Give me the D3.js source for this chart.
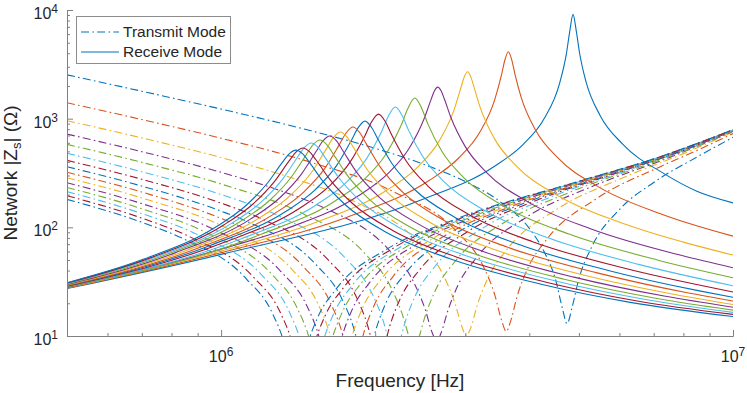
<!DOCTYPE html>
<html>
<head>
<meta charset="utf-8">
<script src="https://cdn.jsdelivr.net/npm/d3@7"></script>
<style>
  body { margin: 0; background: #fff; }
  text { font-family: "Liberation Sans", Arial, Helvetica, sans-serif; fill: #262626; }
</style>
</head>
<body>
<svg id="chart" width="747" height="393"></svg>
<script>
const colors = ['#0072BD', '#D95319', '#EDB120', '#7E2F8E', '#77AC30', '#4DBEEE', '#A2142F'];

const xMajor = [1e6, 1e7];
const xMajorExp = ['6', '7'];
const xMinor = [6e5, 7e5, 8e5, 9e5, 2e6, 3e6, 4e6, 5e6, 6e6, 7e6, 8e6, 9e6];
const yMajor = [1e1, 1e2, 1e3, 1e4];
const yMajorExp = ['1', '2', '3', '4'];
const legendLabels = ['Transmit Mode', 'Receive Mode'];

// transmit mode |Zs| per channel: frequency (Hz) / impedance (Ohm)
const transmitFreq = [
  [5e5, 7e5, 1e6, 1.5e6, 2e6, 2.5e6, 3e6, 3.5e6, 4e6, 4.3e6, 4.5e6, 4.64e6, 4.74e6, 4.85e6, 5.0e6, 5.3e6, 6e6, 7e6, 8.5e6, 1e7],
  [5e5, 7e5, 1e6, 1.5e6, 2.164e6, 2.885e6, 3.245e6, 3.426e6, 3.534e6, 3.606e6, 3.678e6, 3.786e6, 3.967e6, 4.327e6, 5.409e6, 7.212e6, 8.5e6, 1e7],
  [5e5, 7e5, 1e6, 1.4e6, 1.809e6, 2.412e6, 2.714e6, 2.864e6, 2.955e6, 3.015e6, 3.075e6, 3.166e6, 3.317e6, 3.618e6, 4.523e6, 6.03e6, 8e6, 1e7],
  [5e5, 7e5, 1e6, 1.3e6, 1.583e6, 2.11e6, 2.374e6, 2.506e6, 2.585e6, 2.638e6, 2.691e6, 2.77e6, 2.902e6, 3.166e6, 3.957e6, 5.276e6, 7.5e6, 1e7],
  [5e5, 7e5, 1e6, 1.429e6, 1.906e6, 2.144e6, 2.263e6, 2.334e6, 2.382e6, 2.43e6, 2.501e6, 2.62e6, 2.858e6, 3.573e6, 4.764e6, 7e6, 8.5e6, 1e7],
  [5e5, 7e5, 1e6, 1.308e6, 1.744e6, 1.962e6, 2.071e6, 2.136e6, 2.18e6, 2.224e6, 2.289e6, 2.398e6, 2.616e6, 3.27e6, 4.36e6, 6.5e6, 8.5e6, 1e7],
  [5e5, 7e5, 1e6, 1.22e6, 1.626e6, 1.83e6, 1.931e6, 1.992e6, 2.033e6, 2.074e6, 2.135e6, 2.236e6, 2.44e6, 3.05e6, 4.066e6, 6e6, 8e6, 1e7],
  [5e5, 7e5, 1e6, 1.146e6, 1.528e6, 1.719e6, 1.815e6, 1.872e6, 1.91e6, 1.948e6, 2.006e6, 2.101e6, 2.292e6, 2.865e6, 3.82e6, 5.5e6, 7.5e6, 1e7],
  [5e5, 7e5, 1e6, 1.086e6, 1.448e6, 1.629e6, 1.72e6, 1.774e6, 1.81e6, 1.846e6, 1.9e6, 1.991e6, 2.172e6, 2.715e6, 3.62e6, 5e6, 7e6, 1e7],
  [5e5, 7e5, 1.03e6, 1.374e6, 1.545e6, 1.631e6, 1.683e6, 1.717e6, 1.751e6, 1.803e6, 1.889e6, 2.06e6, 2.576e6, 3.434e6, 5e6, 7e6, 1e7],
  [5e5, 7e5, 9.82e5, 1.309e6, 1.472e6, 1.554e6, 1.603e6, 1.636e6, 1.669e6, 1.718e6, 1.8e6, 1.963e6, 2.454e6, 3.272e6, 5e6, 7e6, 1e7],
  [5e5, 7e5, 9.4e5, 1.253e6, 1.409e6, 1.488e6, 1.535e6, 1.566e6, 1.597e6, 1.644e6, 1.723e6, 1.879e6, 2.349e6, 3.132e6, 5e6, 7e6, 1e7],
  [5e5, 7e5, 9.03e5, 1.204e6, 1.355e6, 1.43e6, 1.475e6, 1.505e6, 1.535e6, 1.58e6, 1.656e6, 1.806e6, 2.258e6, 3.01e6, 5e6, 7e6, 1e7],
  [5e5, 7e5, 8.69e5, 1.159e6, 1.304e6, 1.377e6, 1.42e6, 1.449e6, 1.478e6, 1.521e6, 1.594e6, 1.739e6, 2.174e6, 2.898e6, 5e6, 7e6, 1e7],
  [5e5, 7e5, 8.41e5, 1.121e6, 1.261e6, 1.331e6, 1.373e6, 1.401e6, 1.429e6, 1.471e6, 1.541e6, 1.681e6, 2.102e6, 2.802e6, 5e6, 7e6, 1e7]
];
const transmitZ = [
  [2530, 1789, 1225.5, 772.8, 532.8, 377.4, 263.8, 173.7, 97.7, 56.6, 33.2, 18.2, 13.0, 18.4, 33.6, 66.4, 145.9, 258.9, 443.1, 673],
  [1400, 981.9, 660.5, 396.1, 214.4, 91.6, 44.7, 23.8, 13.8, 11, 13.7, 23.1, 41.4, 77.5, 183.3, 361.6, 509.6, 729.5],
  [957, 665.4, 439.0, 277.3, 175.9, 74.9, 36.7, 19.9, 12.1, 10, 12.0, 19.3, 33.8, 62.6, 146.2, 279.7, 476.8, 751.6],
  [721, 496.9, 321.0, 218.8, 152.4, 64.7, 31.8, 17.4, 10.7, 9, 10.7, 16.8, 29.3, 53.8, 124.8, 235.0, 437.9, 763.5],
  [580, 396.2, 250.5, 136.6, 58.0, 28.4, 15.5, 9.6, 8, 9.5, 15.0, 26.1, 48.0, 110.9, 207.1, 398.2, 557.9, 770.5],
  [480, 324.7, 200.5, 124.6, 52.8, 25.8, 14.0, 8.5, 7, 8.4, 13.5, 23.7, 43.6, 100.5, 186.4, 359.8, 563.7, 775.5],
  [413, 276.9, 167.0, 115.8, 49.1, 23.8, 12.7, 7.5, 6, 7.4, 12.3, 21.8, 40.4, 93.0, 171.8, 322.3, 510.8, 778.9],
  [361, 239.7, 141.0, 108.5, 46.0, 22.3, 11.9, 6.9, 5.5, 6.8, 11.4, 20.4, 37.8, 86.9, 160.0, 286.5, 461.9, 781.5],
  [321, 211.2, 121.0, 102.7, 43.5, 21.0, 11.1, 6.4, 5, 6.3, 10.7, 19.2, 35.8, 82.0, 150.7, 251.9, 416.7, 783.5],
  [286, 186.2, 97.3, 41.2, 19.9, 10.4, 5.8, 4.5, 5.8, 10.0, 18.1, 33.8, 77.5, 142.2, 255.4, 419.2, 785.2],
  [257, 165.4, 92.6, 39.2, 18.8, 9.8, 5.3, 4, 5.3, 9.4, 17.2, 32.2, 73.6, 134.7, 258.3, 421.3, 786.7],
  [233, 148.3, 88.5, 37.4, 18.0, 9.4, 5.2, 4, 5.2, 9.1, 16.4, 30.7, 70.3, 128.4, 260.7, 423.0, 787.9],
  [213, 134.0, 84.9, 35.9, 17.2, 8.9, 4.8, 3.5, 4.7, 8.6, 15.7, 29.45, 67.4, 122.9, 262.7, 424.4, 788.9],
  [195.5, 121.5, 81.7, 34.5, 16.6, 8.6, 4.7, 3.5, 4.6, 8.3, 15.1, 28.3, 64.7, 118.0, 264.4, 425.7, 789.7],
  [181, 111.2, 79.0, 33.4, 16.0, 8.2, 4.2, 3, 4.2, 7.9, 14.5, 27.4, 62.5, 113.9, 265.9, 426.7, 790.5]
];

// receive mode |Zs| per channel: frequency (Hz) / impedance (Ohm)
const receiveFreq = [
  [5e5, 1e6, 2.435e6, 3.409e6, 3.896e6, 4.286e6, 4.578e6, 4.724e6, 4.797e6, 4.87e6, 4.943e6, 5.016e6, 5.162e6, 5.503e6, 6.088e6, 7.305e6, 8.5e6, 1e7],
  [5e5, 1e6, 1.82e6, 2.548e6, 2.912e6, 3.203e6, 3.422e6, 3.531e6, 3.585e6, 3.64e6, 3.695e6, 3.749e6, 3.858e6, 4.113e6, 4.55e6, 5.46e6, 7.28e6, 1e7],
  [5e5, 1e6, 1.515e6, 2.121e6, 2.424e6, 2.666e6, 2.848e6, 2.939e6, 2.985e6, 3.03e6, 3.075e6, 3.121e6, 3.212e6, 3.424e6, 3.788e6, 4.545e6, 6.06e6, 8e6, 1e7],
  [5e5, 1e6, 1.325e6, 1.855e6, 2.12e6, 2.332e6, 2.491e6, 2.571e6, 2.61e6, 2.65e6, 2.69e6, 2.73e6, 2.809e6, 2.995e6, 3.313e6, 3.975e6, 5.3e6, 7.95e6, 1e7],
  [5e5, 1.195e6, 1.673e6, 1.912e6, 2.103e6, 2.247e6, 2.318e6, 2.39e6, 2.462e6, 2.533e6, 2.701e6, 2.988e6, 3.585e6, 4.78e6, 7.17e6, 1e7],
  [5e5, 1.095e6, 1.533e6, 1.752e6, 1.927e6, 2.059e6, 2.124e6, 2.19e6, 2.256e6, 2.321e6, 2.475e6, 2.738e6, 3.285e6, 4.38e6, 6.57e6, 1e7],
  [5e5, 1.015e6, 1.421e6, 1.624e6, 1.786e6, 1.908e6, 1.969e6, 2.03e6, 2.091e6, 2.152e6, 2.294e6, 2.538e6, 3.045e6, 4.06e6, 6.09e6, 1e7],
  [5e5, 9.55e5, 1.337e6, 1.528e6, 1.681e6, 1.795e6, 1.853e6, 1.91e6, 1.967e6, 2.025e6, 2.158e6, 2.388e6, 2.865e6, 3.82e6, 5.73e6, 8.6e6, 1e7],
  [5e5, 9.05e5, 1.267e6, 1.448e6, 1.593e6, 1.701e6, 1.756e6, 1.81e6, 1.864e6, 1.919e6, 2.045e6, 2.263e6, 2.715e6, 3.62e6, 5.43e6, 8.145e6, 1e7],
  [5e5, 8.55e5, 1.197e6, 1.368e6, 1.505e6, 1.607e6, 1.659e6, 1.71e6, 1.761e6, 1.813e6, 1.932e6, 2.138e6, 2.565e6, 3.42e6, 5.13e6, 7.695e6, 1e7],
  [5e5, 8.15e5, 1.141e6, 1.304e6, 1.434e6, 1.532e6, 1.581e6, 1.63e6, 1.679e6, 1.728e6, 1.842e6, 2.038e6, 2.445e6, 3.26e6, 4.89e6, 7.335e6, 1e7],
  [5e5, 7.8e5, 1.092e6, 1.248e6, 1.373e6, 1.466e6, 1.513e6, 1.56e6, 1.607e6, 1.654e6, 1.763e6, 1.95e6, 2.34e6, 3.12e6, 4.68e6, 7.02e6, 1e7],
  [5e5, 7.5e5, 1.05e6, 1.2e6, 1.32e6, 1.41e6, 1.455e6, 1.5e6, 1.545e6, 1.59e6, 1.695e6, 1.875e6, 2.25e6, 3.0e6, 4.5e6, 6.75e6, 1e7],
  [5e5, 7.225e5, 1.0115e6, 1.156e6, 1.272e6, 1.358e6, 1.402e6, 1.445e6, 1.488e6, 1.532e6, 1.633e6, 1.806e6, 2.168e6, 2.89e6, 4.335e6, 6.5e6, 1e7],
  [5e5, 7.0e5, 9.8e5, 1.12e6, 1.232e6, 1.316e6, 1.358e6, 1.4e6, 1.442e6, 1.484e6, 1.582e6, 1.75e6, 2.1e6, 2.8e6, 4.2e6, 6.3e6, 1e7]
];
const receiveZ = [
  [27.3, 56.4, 175.3, 360.7, 583.2, 1019.6, 2069, 3902, 6298, 9120, 6347, 3998, 2189, 1066, 583.2, 315.4, 215, 168],
  [27.5, 58.4, 131.0, 269.3, 434.5, 754.1, 1482, 2542, 3485, 4125, 3500, 2589, 1561, 787.6, 434.8, 235.8, 131.4, 83],
  [27.75, 60.6, 109.0, 223.8, 360.3, 621.2, 1186.8, 1903.7, 2415.5, 2700, 2422.5, 1932, 1244.8, 648.1, 360.7, 196.3, 109.6, 73.1, 55.6],
  [28.0, 63.0, 95.2, 195.3, 313.6, 536.3, 993.0, 1497.4, 1798.7, 1950, 1802.6, 1515.4, 1037.2, 558.9, 314.2, 171.6, 96.1, 55.0, 42.5],
  [28.2, 85.9, 175.9, 281.9, 478.6, 864.3, 1249.6, 1549, 1262.5, 900.0, 498.4, 282.4, 154.6, 86.7, 49.6, 34.4],
  [28.5, 78.5, 160.7, 256.8, 433.0, 763.2, 1064.6, 1279, 1074.1, 792.5, 450.5, 257.3, 141.3, 79.3, 45.4, 29],
  [28.7, 72.9, 149.0, 237.8, 398.6, 690.0, 939.3, 1102, 946.9, 714.9, 414.4, 238.4, 131.3, 73.8, 42.4, 25.4],
  [29.0, 68.5, 139.8, 222.5, 370.1, 625.8, 827.9, 950, 833.8, 646.7, 384.4, 223.0, 123.2, 69.4, 39.9, 26.0, 22.7],
  [29.2, 64.9, 132.4, 210.2, 346.9, 574.2, 742.2, 837, 746.8, 592.2, 360.0, 210.8, 116.8, 65.9, 38.1, 25.0, 21],
  [29.5, 61.3, 124.9, 197.9, 325.0, 530.2, 675.1, 754, 679.0, 546.0, 337.0, 198.6, 110.4, 62.4, 36.2, 24.1, 19.5],
  [29.8, 58.5, 119.0, 188.2, 307.5, 495.7, 623.8, 692, 627.2, 509.9, 318.7, 188.9, 105.3, 59.7, 34.8, 23.3, 18.4],
  [30.1, 55.9, 113.7, 179.5, 291.8, 464.4, 577.5, 636, 580.5, 477.1, 302.3, 180.2, 100.7, 57.1, 33.3, 22.4, 17.3],
  [30.4, 53.8, 109.3, 172.3, 279.3, 441.0, 544.6, 597, 547.3, 452.7, 289.2, 173.1, 96.8, 55.0, 32.1, 21.7, 16.5],
  [30.7, 51.8, 105.0, 164.9, 264.7, 408.5, 494.9, 537, 497.1, 418.6, 273.8, 165.7, 93.1, 53.0, 31.1, 21.0, 15.8],
  [30.9, 50.2, 101.7, 159.7, 255.8, 393.3, 474.9, 514, 477.0, 402.8, 264.5, 160.5, 90.2, 51.4, 30.1, 20.4, 15.1]
];

const width = 747;
const height = 393;
const plot = { left: 67, right: 733, top: 10, bottom: 336 };
const axisColor = '#808080';
const dashDot = '8,3.3,1.6,3.3';

const x = d3.scaleLog().domain([5e5, 1e7]).range([plot.left, plot.right]);
const y = d3.scaleLog().domain([10, 1e4]).range([plot.bottom, plot.top]);

const svg = d3.select('#chart');

svg.append('defs').append('clipPath').attr('id', 'plot-clip')
  .append('rect')
  .attr('x', plot.left).attr('y', plot.top)
  .attr('width', plot.right - plot.left).attr('height', plot.bottom - plot.top);

const line = d3.line()
  .x((d) => x(d[0]))
  .y((d) => y(d[1]))
  .curve(d3.curveMonotoneX);

const g = svg.append('g')
  .attr('clip-path', 'url(#plot-clip)')
  .attr('fill', 'none')
  .attr('stroke-width', 1.1);

g.selectAll('path.transmit')
  .data(transmitFreq)
  .join('path')
  .attr('class', 'transmit')
  .attr('stroke', (d, i) => colors[i % colors.length])
  .attr('stroke-dasharray', dashDot)
  .attr('d', (f, i) => line(f.map((v, j) => [v, transmitZ[i][j]])));

g.selectAll('path.receive')
  .data(receiveFreq)
  .join('path')
  .attr('class', 'receive')
  .attr('stroke', (d, i) => colors[i % colors.length])
  .attr('d', (f, i) => line(f.map((v, j) => [v, receiveZ[i][j]])));

// axes: ticks point inward, no box
const yMinor = d3.range(1, 4).flatMap((e) => d3.range(2, 10).map((k) => k * 10 ** e));

function plain(sel) {
  sel.selectAll('text').remove();
  sel.selectAll('path, line').attr('stroke', axisColor);
}

svg.append('g')
  .attr('transform', `translate(0,${plot.bottom})`)
  .call(d3.axisBottom(x).tickValues(xMinor).tickSizeInner(-3).tickSizeOuter(0).tickFormat(''))
  .call(plain);
svg.append('g')
  .attr('transform', `translate(0,${plot.bottom})`)
  .call(d3.axisBottom(x).tickValues(xMajor).tickSizeInner(-6).tickSizeOuter(0).tickFormat(''))
  .call(plain);
svg.append('g')
  .attr('transform', `translate(${plot.left},0)`)
  .call(d3.axisLeft(y).tickValues(yMinor).tickSizeInner(-3).tickSizeOuter(0).tickFormat(''))
  .call(plain);
svg.append('g')
  .attr('transform', `translate(${plot.left},0)`)
  .call(d3.axisLeft(y).tickValues(yMajor).tickSizeInner(-6).tickSizeOuter(0).tickFormat(''))
  .call(plain);

// tick labels as 10^n
const xl = svg.append('g').selectAll('text')
  .data(xMajor)
  .join('text')
  .attr('x', (d) => x(d))
  .attr('y', 362)
  .attr('text-anchor', 'middle')
  .style('font-size', '16px');
xl.append('tspan').text('10');
xl.append('tspan').attr('dy', -6).style('font-size', '12px').text((d, i) => xMajorExp[i]);

const yl = svg.append('g').selectAll('text')
  .data(yMajor)
  .join('text')
  .attr('x', plot.left - 9)
  .attr('y', (d) => y(d) + 9)
  .attr('text-anchor', 'end')
  .style('font-size', '16px');
yl.append('tspan').text('10');
yl.append('tspan').attr('dy', -6).style('font-size', '12px').text((d, i) => yMajorExp[i]);

// axis titles
svg.append('text')
  .attr('x', (plot.left + plot.right) / 2)
  .attr('y', 387)
  .attr('text-anchor', 'middle')
  .style('font-size', '19px')
  .text('Frequency [Hz]');

const yt = svg.append('text')
  .attr('transform', `translate(17,${(plot.top + plot.bottom) / 2}) rotate(-90)`)
  .attr('text-anchor', 'middle')
  .style('font-size', '19px');
yt.append('tspan').text('Network |Z');
yt.append('tspan').attr('dy', 4).style('font-size', '13px').text('s');
yt.append('tspan').attr('dy', -4).text('| (Ω)');

// legend
const legend = svg.append('g');
legend.append('rect')
  .attr('x', 76.5).attr('y', 16.5)
  .attr('width', 154).attr('height', 47)
  .attr('fill', '#fff')
  .attr('stroke', '#8c8c8c');

const entries = legend.selectAll('g.entry')
  .data(legendLabels)
  .join('g')
  .attr('class', 'entry')
  .attr('transform', (d, i) => `translate(0,${32 + i * 20})`);
entries.append('line')
  .attr('x1', 81).attr('x2', 119)
  .attr('stroke', colors[0])
  .attr('stroke-width', 1.1)
  .attr('stroke-dasharray', (d, i) => (i === 0 ? dashDot : null));
entries.append('text')
  .attr('x', 123)
  .attr('y', 5)
  .style('font-size', '15.5px')
  .text((d) => d);
</script>
</body>
</html>
